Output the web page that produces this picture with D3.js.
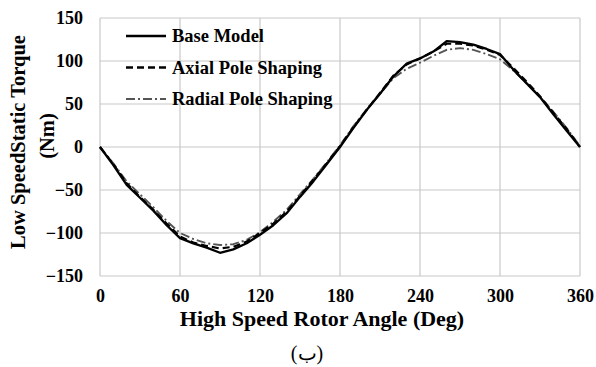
<!DOCTYPE html>
<html><head><meta charset="utf-8">
<script src="https://cdn.jsdelivr.net/npm/d3@7"></script>
</head>
<body style="margin:0;background:#fff"><svg id="c" width="596" height="367"></svg>
<script>
const angles = [0,10,20,30,40,50,60,70,80,90,100,110,120,130,140,150,160,170,180,190,200,210,220,230,240,250,260,270,280,290,300,310,320,330,340,350,360];
const baseModel = [0,-21,-44,-59,-74,-91,-106,-112,-117,-123,-119,-112,-102,-91,-77,-58,-40,-20,0,22,43,62,82,97,103,111,123,122,119,114,108,90,74,58,38,19,0];
const axialPole = [0,-20,-42,-58,-73,-89,-104,-111,-115,-118,-116,-110,-100,-89,-75,-57,-38,-19,1,23,43,63,83,96,103,111,120,120,118,113,107,92,76,59,40,21,0];
const radialPole = [0,-19,-40,-55,-70,-86,-100,-107,-112,-114,-113,-108,-99,-87,-73,-55,-37,-18,2,24,44,62,80,91,98,106,113,115,113,108,102,89,74,58,41,22,1];
const xTicks = [0,60,120,180,240,300,360];
const yTicks = [-150,-100,-50,0,50,100,150];
const seriesNames = ["Base Model","Axial Pole Shaping","Radial Pole Shaping"];

const FF = "'Liberation Serif', 'Times New Roman'";
const svg = d3.select("#c");
const x = d3.scaleLinear().domain([0,360]).range([100,580]);
const y = d3.scaleLinear().domain([-150,150]).range([276,18]);

// grid
svg.append("g").selectAll("line").data(yTicks).join("line")
  .attr("x1",x(0)).attr("x2",x(360)).attr("y1",d=>y(d)).attr("y2",d=>y(d))
  .attr("stroke","#c8c8c8").attr("stroke-width",1.2);
svg.append("g").selectAll("line").data(xTicks).join("line")
  .attr("y1",y(-150)).attr("y2",y(150)).attr("x1",d=>x(d)).attr("x2",d=>x(d))
  .attr("stroke","#c8c8c8").attr("stroke-width",1.2);

// axes labels via d3 axes
const xa = svg.append("g").attr("transform",`translate(0,${y(-150)})`)
  .call(d3.axisBottom(x).tickValues(xTicks).tickSize(0).tickPadding(13));
const ya = svg.append("g").attr("transform",`translate(${x(0)},0)`)
  .call(d3.axisLeft(y).tickValues(yTicks).tickSize(0).tickPadding(17));
[xa,ya].forEach(a=>{
  a.select(".domain").remove();
  a.selectAll("text").style("font-family",FF)
   .style("font-weight","bold").style("font-size","18px").attr("fill","#000");
});

// lines
const styles = [
  {data:baseModel,color:"#000",w:2.3,dash:null},
  {data:axialPole,color:"#000",w:2.1,dash:"7,4"},
  {data:radialPole,color:"#555",w:1.9,dash:"9,3,2,3"}
];
const line = d3.line().x((d,i)=>x(angles[i])).y(d=>y(d));
styles.slice().reverse().forEach(s=>{
  svg.append("path").attr("d",line(s.data)).attr("fill","none")
    .attr("stroke",s.color).attr("stroke-width",s.w)
    .attr("stroke-dasharray",s.dash).attr("stroke-linejoin","round");
});

function txt(sel){ return sel.style("font-family",FF).attr("fill","#000"); }

// legend
const lg = svg.append("g");
seriesNames.forEach((n,i)=>{
  const yy = 36 + i*31.5;
  lg.append("line").attr("x1",126).attr("x2",166).attr("y1",yy).attr("y2",yy)
    .attr("stroke",styles[i].color).attr("stroke-width",styles[i].w+0.2)
    .attr("stroke-dasharray",styles[i].dash);
  txt(lg.append("text").attr("x",172).attr("y",yy+6).text(n))
    .style("font-weight","bold").style("font-size","18.5px");
});

// axis titles
txt(svg.append("text").attr("x",322).attr("y",325.5).attr("text-anchor","middle"))
  .style("font-weight","bold").style("font-size","22px").text("High Speed Rotor Angle (Deg)");
txt(svg.append("text").attr("transform","translate(25,142) rotate(-90)").attr("text-anchor","middle"))
  .style("font-weight","bold").style("font-size","20.5px").text("Low SpeedStatic Torque");
txt(svg.append("text").attr("transform","translate(54,136) rotate(-90)").attr("text-anchor","middle"))
  .style("font-weight","bold").style("font-size","20.5px").text("(Nm)");
txt(svg.append("text").attr("x",307).attr("y",360).attr("text-anchor","middle"))
  .style("font-size","20px").text("(ب)");
</script></body></html>
